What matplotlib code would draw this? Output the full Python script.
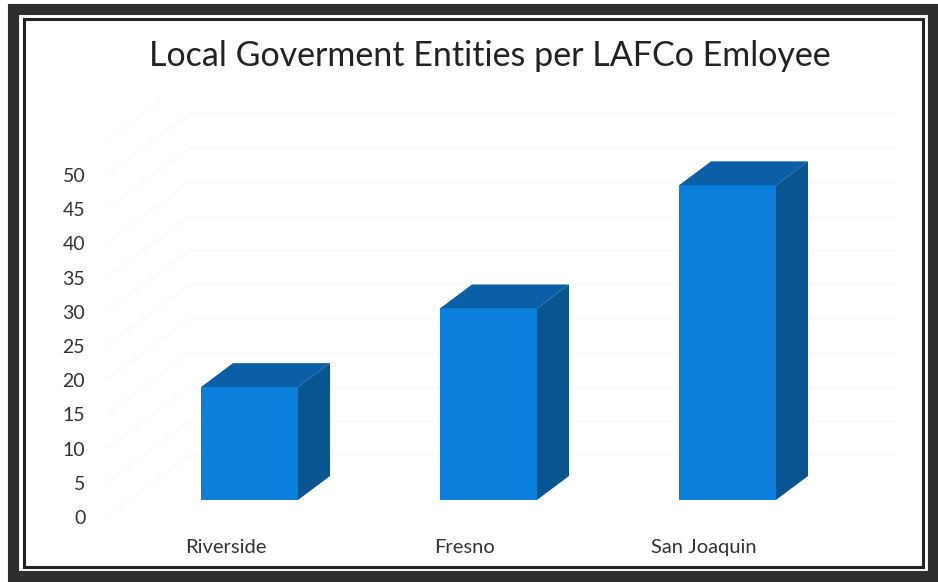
import matplotlib.pyplot as plt
from matplotlib.patches import Polygon, Rectangle

# --- data ---
categories = ["Riverside", "Fresno", "San Joaquin"]
values = [19, 30.5, 48.5]
y_ticks = [0, 5, 10, 15, 20, 25, 30, 35, 40, 45, 50]

# --- style ---
front_col = "#0a7fdb"
top_col = "#0a5fa6"
side_col = "#085592"
bar_w = 0.406
floor = 2.5          # front face sits a little above zero (3d look)
dx, dy = 0.134, 3.5  # depth offset in data units

plt.rcParams["font.family"] = ["Lato", "DejaVu Sans"]

fig = plt.figure(figsize=(9.38, 5.82), dpi=100)
W, H = 938, 582

# picture frame
def frame_rect(x0, y0, x1, y1, lw, col):
    fig.patches.append(Rectangle((x0 / W, 1 - y1 / H), (x1 - x0) / W, (y1 - y0) / H,
                                 transform=fig.transFigure, fill=False,
                                 lw=lw, edgecolor=col))

frame_rect(13, 9, 933, 576, 8, "#2e2e2e")
frame_rect(24, 19, 923, 567, 2.2, "#222222")

ax = fig.add_axes([0.1131, 0.0881, 0.8408, 0.7404])
ax.set_xlim(-0.6, 2.7)
ax.set_ylim(-2, 61)

# very faint back-wall gridlines
for v in y_ticks + [55]:
    ax.plot([-0.6, -0.6 + 0.35], [v, v + 9.0], color="#f9f9f9", lw=1, zorder=0)
    ax.plot([-0.25, 2.7], [v + 9.0, v + 9.0], color="#f9f9f9", lw=1, zorder=0)

for i, (name, v) in enumerate(zip(categories, values)):
    x0 = i - bar_w / 2
    x1 = i + bar_w / 2
    ax.add_patch(Rectangle((x0, floor), bar_w, v - floor, facecolor=front_col,
                           edgecolor="none", zorder=3))
    ax.add_patch(Polygon([(x0, v), (x1, v), (x1 + dx, v + dy), (x0 + dx, v + dy)],
                         closed=True, facecolor=top_col, edgecolor="none", zorder=3))
    ax.add_patch(Polygon([(x1, floor), (x1 + dx, floor + dy), (x1 + dx, v + dy), (x1, v)],
                         closed=True, facecolor=side_col, edgecolor="none", zorder=3))
    ax.text(i - 0.1, -4.4, name, ha="center", va="center", fontsize=14.5,
            color="#333333", clip_on=False)

ax.set_yticks(y_ticks)
ax.set_yticklabels([str(t) for t in y_ticks], fontsize=14, color="#333333")
ax.tick_params(axis="y", length=0, pad=15)
ax.set_xticks([])
for s in ax.spines.values():
    s.set_visible(False)
ax.patch.set_alpha(0)

fig.text(0.522, 0.903, "Local Goverment Entities per LAFCo Emloyee",
         ha="center", va="center", fontsize=24.5, color="#222222")

fig.savefig("out.png", dpi=100)
